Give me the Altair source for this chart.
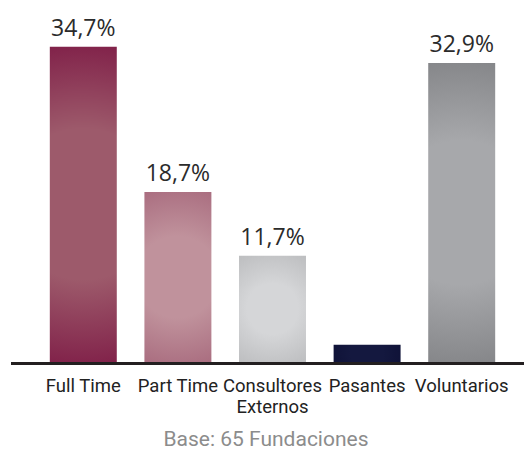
import altair as alt
import pandas as pd

categories = ["Full Time", "Part Time", "Consultores\nExternos", "Pasantes", "Voluntarios"]
values = [34.7, 18.7, 11.7, 1.9, 32.9]
value_labels = ["34,7%", "18,7%", "11,7%", "", "32,9%"]
center_colors = ["#9d5a6b", "#c0929c", "#d5d6d8", "#14183f", "#a7a8ab"]
edge_colors = ["#78103f", "#a5667a", "#bcbdbf", "#0e1136", "#7b7c7f"]
note = "Base: 65 Fundaciones"

W, H = 473, 344
YMAX = 37.86
LABEL_FONT = "Roboto"

df = pd.DataFrame({"cat": categories, "val": values, "lab": value_labels})

x = alt.X("cat:N", sort=categories, axis=None,
          scale=alt.Scale(paddingInner=0.292, paddingOuter=0.146))
y = alt.Y("val:Q", axis=None, scale=alt.Scale(domain=[0, YMAX], nice=False, zero=True))

base = alt.Chart(df)

layers = []
for c, cc, ec in zip(categories, center_colors, edge_colors):
    grad = alt.RadialGradient(
        gradient="radial",
        stops=[alt.GradientStop(color=cc, offset=0),
               alt.GradientStop(color=cc, offset=0.4),
               alt.GradientStop(color=ec, offset=1)],
        x1=0.5, y1=0.5, r1=0, x2=0.5, y2=0.5, r2=0.6,
    )
    layers.append(
        base.transform_filter(alt.datum.cat == c)
        .mark_bar(color=grad)
        .encode(x=x, y=y)
    )

vals = base.mark_text(
    baseline="alphabetic", dy=-11, fontSize=23, font="Open Sans", color="#2b2b2b"
).encode(x=x, y=y, text="lab:N")

xlabels = base.mark_text(
    baseline="alphabetic", fontSize=18.5, lineHeight=21, lineBreak="\n",
    font=LABEL_FONT, color="#222222"
).encode(x=x, y=alt.value(H + 30), text="cat:N")

rule = alt.Chart(pd.DataFrame({"a": [0]})).mark_rule(color="#231f20", strokeWidth=3).encode(
    x=alt.value(-25), x2=alt.value(W + 20), y=alt.value(H + 1.5)
)

title = alt.Chart(pd.DataFrame({"t": [note]})).mark_text(
    baseline="alphabetic", fontSize=21, font=LABEL_FONT, color="#8c8c8c"
).encode(x=alt.value(230), y=alt.value(H + 84), text="t:N")

chart = alt.layer(*layers, rule, vals, xlabels, title).properties(
    width=W, height=H,
    autosize=alt.AutoSizeParams(type="none"),
    padding={"left": 28, "top": 10, "right": 15, "bottom": 90},
).configure_view(stroke=None)

chart.save("out.html", embed_options={"renderer": "svg", "actions": False})
